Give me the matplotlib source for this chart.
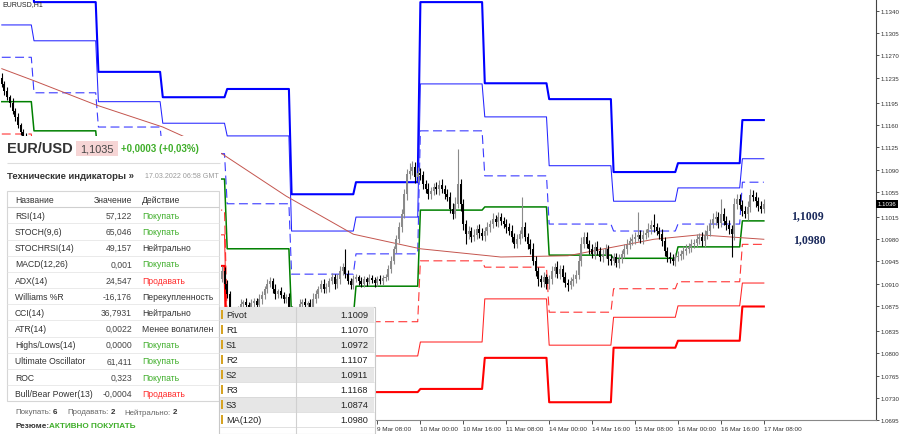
import numpy as np
import matplotlib
matplotlib.use("Agg")
import matplotlib.pyplot as plt
import matplotlib.transforms as mtransforms
from matplotlib.patches import Rectangle

plt.rcParams["font.family"] = ["Liberation Sans", "DejaVu Sans"]

# ---------------- data ----------------
# hourly bars, one block per trading day (1 Mar 12:00 .. 17 Mar 08:00)
DAY_NAMES = ["1 Mar", "2 Mar", "3 Mar", "4 Mar", "7 Mar", "8 Mar", "9 Mar",
             "10 Mar", "11 Mar", "14 Mar", "15 Mar", "16 Mar", "17 Mar"]
DAY_BARS = [12, 24, 24, 24, 24, 24, 24, 24, 24, 24, 24, 24, 9]

# daily pivot levels
R3 = [1.1420, 1.1354, 1.1244, 1.1204, 1.1217, 1.1051, 1.1070, 1.1354, 1.1226, 1.1201, 1.1086, 1.1100, 1.1168]
R2 = [1.1318, 1.1293, 1.1197, 1.1163, 1.1143, 1.0993, 1.1015, 1.1225, 1.1173, 1.1096, 1.1040, 1.1061, 1.1107]
R1 = [1.1267, 1.1211, 1.1157, 1.1115, 1.1036, 1.0925, 1.0957, 1.1151, 1.1080, 1.1004, 1.0993, 1.1004, 1.1070]
PIVOT = [1.1197, 1.1151, 1.1107, 1.1075, 1.0965, 1.0857, 1.0906, 1.1026, 1.1031, 1.0955, 1.0950, 1.0968, 1.1009]
S1 = [1.1146, 1.1099, 1.1059, 1.1026, 1.0854, 1.0815, 1.0850, 1.0946, 1.0936, 1.0865, 1.0902, 1.0913, 1.0972]
S2 = [1.1107, 1.1059, 1.1020, 1.0987, 1.0807, 1.0775, 1.0796, 1.0818, 1.0886, 1.0813, 1.0857, 1.0875, 1.0911]
S3 = [1.1067, 1.1020, 1.0980, 1.0938, 1.0744, 1.0728, 1.0739, 1.0744, 1.0793, 1.0723, 1.0809, 1.0820, 1.0874]

# MA(120) read at a few bars
MA_BARS = [0, 12, 35, 60, 82, 106, 131, 156, 186, 211, 243, 260, 284]
MA_VALUES = [1.1249, 1.1230, 1.1192, 1.1157, 1.1115, 1.1048, 1.0988, 1.0965,
             1.0952, 1.0954, 1.0980, 1.0987, 1.0980]

FIRST_OPEN = 1.1235
CLOSES = [
    1.1225, 1.1214, 1.1204, 1.1195, 1.1182, 1.1173, 1.1160, 1.1149, 1.1141, 1.1135, 1.1129, 1.1122,
    1.1119, 1.1126, 1.1115, 1.1107, 1.1110, 1.1103, 1.1099, 1.1107, 1.1110, 1.1103, 1.1094, 1.1091,
    1.1097, 1.1100, 1.1107, 1.1110, 1.1103, 1.1099, 1.1091, 1.1088, 1.1094, 1.1099, 1.1091, 1.1083,
    1.1078, 1.1083, 1.1075, 1.1067, 1.1072, 1.1078, 1.1081, 1.1072, 1.1062, 1.1056, 1.1051, 1.1059,
    1.1066, 1.1059, 1.1050, 1.1044, 1.1036, 1.1028, 1.1031, 1.1025, 1.1020, 1.1015, 1.1012, 1.1009,
    1.1004, 1.0999, 1.0993, 1.0988, 1.0984, 1.0977, 1.0973, 1.0965, 1.0957, 1.0952, 1.0946, 1.0941,
    1.0936, 1.0930, 1.0925, 1.0920, 1.0914, 1.0909, 1.0905, 1.0908, 1.0909, 1.0917, 1.0930, 1.0909,
    1.0894, 1.0867, 1.0857, 1.0862, 1.0870, 1.0878, 1.0881, 1.0876, 1.0873, 1.0879, 1.0883, 1.0876,
    1.0886, 1.0892, 1.0902, 1.0909, 1.0914, 1.0902, 1.0894, 1.0898, 1.0892, 1.0886, 1.0889, 1.0870,
    1.0862, 1.0857, 1.0867, 1.0878, 1.0881, 1.0876, 1.0879, 1.0873, 1.0886, 1.0894, 1.0902, 1.0909,
    1.0902, 1.0905, 1.0914, 1.0920, 1.0909, 1.0917, 1.0930, 1.0936, 1.0925, 1.0914, 1.0908, 1.0917,
    1.0920, 1.0914, 1.0909, 1.0917, 1.0913, 1.0919, 1.0916, 1.0911, 1.0917, 1.0914, 1.0919, 1.0920,
    1.0933, 1.0946, 1.0965, 1.0980, 1.0999, 1.1020, 1.1051, 1.1083, 1.1088, 1.1094, 1.1078, 1.1085,
    1.1081, 1.1067, 1.1059, 1.1051, 1.1056, 1.1062, 1.1059, 1.1066, 1.1059, 1.1051, 1.1047, 1.1028,
    1.1020, 1.1036, 1.1067, 1.1036, 1.1004, 1.0988, 1.0993, 1.0984, 1.0987, 1.0996, 1.0990, 1.0985,
    1.0993, 1.0999, 1.1004, 1.1012, 1.1007, 1.1015, 1.1009, 1.1004, 1.0999, 1.0993, 1.0984, 1.0973,
    1.0980, 1.0988, 1.0999, 1.0984, 1.0973, 1.0965, 1.0946, 1.0930, 1.0917, 1.0913, 1.0920, 1.0909,
    1.0917, 1.0930, 1.0936, 1.0925, 1.0933, 1.0920, 1.0911, 1.0908, 1.0914, 1.0917, 1.0924, 1.0946,
    1.0973, 1.0984, 1.0973, 1.0965, 1.0957, 1.0968, 1.0962, 1.0952, 1.0957, 1.0965, 1.0949, 1.0946,
    1.0952, 1.0943, 1.0949, 1.0957, 1.0965, 1.0971, 1.0977, 1.0980, 1.0984, 1.0987, 1.0980, 1.0987,
    1.0990, 1.0996, 1.1003, 1.0999, 1.0993, 1.0988, 1.0977, 1.0962, 1.0952, 1.0949, 1.0946, 1.0952,
    1.0954, 1.0957, 1.0962, 1.0965, 1.0968, 1.0973, 1.0974, 1.0980, 1.0984, 1.0977, 1.0987, 1.0993,
    1.1004, 1.1012, 1.1015, 1.1006, 1.1020, 1.1009, 1.1003, 1.0996, 1.0988, 1.1036, 1.1044, 1.1034,
    1.1025, 1.1020, 1.1031, 1.1050, 1.1047, 1.1040, 1.1032, 1.1028, 1.1036,
]
# candle wicks in pips above max(open, close) and below min(open, close)
WICK_UP = [
    7, 5, 6, 4, 8, 5, 6, 4, 5, 7, 4, 6,
    5, 4, 6, 3, 4, 5, 3, 6, 4, 5, 3, 4, 6, 5, 3, 4, 5, 3, 6, 4, 5, 3, 4, 5,
    4, 6, 3, 5, 4, 6, 5, 3, 4, 6, 5, 4, 3, 5, 6, 4, 5, 3, 4, 6, 5, 3, 4, 5,
    5, 3, 6, 4, 5, 3, 4, 6, 5, 4, 3, 5, 6, 4, 3, 5, 4, 6, 5, 3, 4, 5, 8, 6,
    7, 5, 4, 6, 5, 8, 4, 6, 5, 7, 4, 5, 8, 6, 5, 9, 6, 5, 7, 4, 6, 5, 4, 6,
    5, 4, 6, 8, 5, 6, 4, 7, 9, 6, 5, 7, 8, 6, 5, 7, 6, 9, 8, 6, 29, 7, 5, 6,
    5, 4, 6, 5, 4, 6, 5, 4, 5, 6, 4, 5, 6, 7, 5, 6, 8, 7, 9, 8, 12, 10, 8, 9,
    8, 7, 6, 9, 7, 6, 8, 7, 9, 6, 8, 7, 9, 10, 55, 8, 7, 6, 8, 7, 9, 6, 8, 7,
    6, 8, 7, 9, 6, 8, 7, 6, 8, 7, 9, 6, 8, 7, 48, 8, 6, 7, 9, 8, 6, 7, 8, 6,
    7, 8, 6, 9, 7, 6, 8, 7, 6, 8, 7, 9, 10, 8, 7, 6, 8, 7, 9, 6, 8, 7, 6, 8,
    6, 7, 8, 6, 7, 9, 6, 8, 7, 36, 8, 7, 6, 9, 8, 17, 7, 6, 8, 7, 6, 8, 7, 6,
    7, 6, 8, 7, 6, 8, 7, 9, 6, 8, 7, 9, 8, 10, 9, 8, 24, 9, 8, 7, 6, 9, 8, 7,
    8, 7, 9, 10, 8, 7, 6, 8, 7,
]
WICK_DN = [
    5, 6, 4, 7, 5, 6, 4, 5, 6, 4, 5, 6,
    4, 5, 3, 6, 4, 5, 6, 3, 5, 4, 6, 5, 3, 4, 6, 5, 4, 3, 5, 6, 4, 5, 3, 4,
    5, 4, 6, 3, 5, 4, 3, 6, 5, 4, 6, 3, 5, 4, 6, 5, 3, 4, 6, 5, 4, 3, 5, 6,
    4, 6, 5, 3, 4, 6, 5, 4, 3, 6, 5, 4, 6, 3, 5, 4, 6, 5, 4, 3, 6, 5, 4, 7,
    6, 8, 7, 5, 6, 7, 5, 8, 6, 5, 7, 6, 5, 8, 6, 7, 5, 6, 8, 7, 5, 6, 7, 8,
    7, 6, 5, 8, 6, 7, 5, 6, 8, 7, 6, 5, 7, 6, 8, 5, 7, 6, 8, 7, 6, 5, 7, 6,
    5, 6, 4, 5, 6, 4, 5, 6, 5, 4, 6, 5, 4, 6, 5, 7, 6, 8, 7, 9, 8, 7, 9, 8,
    7, 8, 6, 7, 8, 6, 7, 9, 6, 8, 7, 6, 8, 7, 6, 12, 9, 15, 7, 8, 6, 7, 8, 6,
    7, 6, 8, 7, 6, 8, 7, 6, 9, 7, 8, 6, 7, 8, 6, 7, 8, 9, 7, 8, 10, 9, 8, 7,
    8, 7, 9, 6, 8, 7, 6, 9, 7, 8, 6, 7, 8, 6, 7, 9, 6, 8, 7, 6, 8, 7, 9, 6,
    7, 6, 8, 7, 6, 8, 7, 6, 8, 7, 6, 8, 7, 6, 8, 7, 6, 8, 7, 9, 8, 7, 6, 8,
    7, 6, 8, 7, 6, 8, 7, 6, 8, 7, 9, 6, 8, 7, 9, 8, 7, 6, 8, 7, 36, 9, 8, 7,
    8, 7, 9, 8, 7, 9, 8, 7, 6,
]

TIME_TICKS = [140, 156, 172, 188, 204, 220, 236, 252, 268, 284]
TIME_LABELS = ["9 Mar 08:00", "10 Mar 00:00", "10 Mar 16:00", "11 Mar 08:00",
               "14 Mar 00:00", "14 Mar 16:00", "15 Mar 08:00", "16 Mar 00:00",
               "16 Mar 16:00", "17 Mar 08:00"]
PRICE_TICKS = [1.1340, 1.1305, 1.1270, 1.1235, 1.1195, 1.1160, 1.1125, 1.1090,
               1.1055, 1.1015, 1.0980, 1.0945, 1.0910, 1.0875, 1.0835, 1.0800,
               1.0765, 1.0730, 1.0695]
LAST_PRICE = 1.1036

QUOTE, CHANGE, CHANGE_PCT = 1.1035, 0.0003, 0.03
IND_NAMES = ["RSI(14)", "STOCH(9,6)", "STOCHRSI(14)", "MACD(12,26)", "ADX(14)",
             "Williams %R", "CCI(14)", "ATR(14)", "Highs/Lows(14)",
             "Ultimate Oscillator", "ROC", "Bull/Bear Power(13)"]
IND_VALUES = ["57,122", "65,046", "49,157", "0,001", "24,547", "-16,176",
              "36,7931", "0,0022", "0,0000", "61,411", "0,323", "-0,0004"]
IND_ACTIONS = ["Покупать", "Покупать", "Нейтрально", "Покупать", "Продавать",
               "Перекупленность", "Нейтрально", "Менее волатилен", "Покупать",
               "Покупать", "Покупать", "Продавать"]
BUY_N, SELL_N, NEUTRAL_N = 6, 2, 2

# ---------------- build series ----------------
n_bars = sum(DAY_BARS)
bars = np.arange(n_bars)
closes = np.array(CLOSES)
opens = np.concatenate([[FIRST_OPEN], closes[:-1]])
highs = np.maximum(opens, closes) + np.array(WICK_UP) * 1e-4
lows = np.minimum(opens, closes) - np.array(WICK_DN) * 1e-4

fig = plt.figure(figsize=(9, 4.35), dpi=100)
ax = fig.add_axes([0, 14 / 435, 876 / 900, 421 / 435])
ax.set_xlim(-0.67, 325.8)
ax.set_ylim(1.0695, 1.13589)

levels = [
    (R3, "#0000ff", 1.5, "-"),
    (R2, "#2424ff", 0.75, "-"),
    (R1, "#3a3aff", 0.8, (0, (8, 4))),
    (PIVOT, "#008000", 1.1, "-"),
    (S1, "#ff3535", 0.8, (0, (8, 4))),
    (S2, "#ff2525", 0.75, "-"),
    (S3, "#ff0000", 1.5, "-"),
]
for values, color, lw, ls in levels:
    ax.plot(bars, np.repeat(values, DAY_BARS), color=color, lw=lw, ls=ls, zorder=2)

ax.plot(MA_BARS, MA_VALUES, color="#c4554e", lw=0.7, zorder=2)

# candles
up = closes >= opens
cols = np.where(up, "#8a8a8a", "#000000")
ax.vlines(bars, lows, highs, colors=cols, lw=0.8, zorder=3)
ax.bar(bars, np.maximum(np.abs(closes - opens), 0.00004),
       bottom=np.minimum(opens, closes), width=0.75, color=cols, lw=0, zorder=3)

# axes styling
for side in ("left", "top"):
    ax.spines[side].set_visible(False)
ax.spines["right"].set_color("#444444")
ax.spines["right"].set_linewidth(0.8)
ax.spines["bottom"].set_color("#888888")
ax.spines["bottom"].set_linewidth(0.8)
ax.yaxis.tick_right()
ax.set_yticks(PRICE_TICKS)
ax.set_yticklabels([f"{v:.4f}" for v in PRICE_TICKS])
ax.tick_params(axis="y", length=2.5, width=0.6, pad=1.0, labelsize=4.4,
               colors="#333333")
ax.set_xticks(TIME_TICKS)
ax.set_xticklabels(TIME_LABELS)
ax.tick_params(axis="x", length=3, width=0.6, pad=1.5, labelsize=4.6,
               colors="#333333")
for lbl in ax.get_xticklabels():
    lbl.set_ha("left")

blend = mtransforms.blended_transform_factory(ax.transAxes, ax.transData)
ax.text(1.002, LAST_PRICE, f"{LAST_PRICE:.4f}", transform=blend, fontsize=4.4,
        color="white", ha="left", va="center",
        bbox=dict(facecolor="black", edgecolor="none", pad=1.2), zorder=6,
        clip_on=False)
ax.text(0.903, PIVOT[-1], f"{PIVOT[-1]:.4f}".replace(".", ","), transform=blend,
        family="Liberation Serif", fontweight="bold", fontsize=8.5,
        color="#1b2a5c", ha="left", va="bottom")
ax.text(0.905, MA_VALUES[-1], f"{MA_VALUES[-1]:.4f}".replace(".", ","),
        transform=blend, family="Liberation Serif", fontweight="bold",
        fontsize=8.5, color="#1b2a5c", ha="left", va="center")
ax.text(0.003, 0.997, "EURUSD,H1", transform=ax.transAxes, fontsize=5,
        va="top", ha="left", color="#222222")

# ---------------- overlay panels (pixel coordinates) ----------------
ov = fig.add_axes([0, 0, 1, 1], zorder=5)
ov.set_xlim(0, 900)
ov.set_ylim(435, 0)
ov.axis("off")

GREEN, RED, DARK = "#3fae2a", "#ff2d2d", "#333333"


def text_chain(x, y, parts, size):
    """Write (text, color, bold, gap_pt) pieces one after another on a line."""
    prev = None
    for txt, color, bold, gap in parts:
        weight = "bold" if bold else "normal"
        if prev is None:
            prev = ov.text(x, y, txt, fontsize=size, color=color,
                           fontweight=weight, va="center", ha="left")
        else:
            prev = ov.annotate(txt, xy=(1, 0.5), xycoords=prev,
                               xytext=(gap, 0), textcoords="offset points",
                               fontsize=size, color=color, fontweight=weight,
                               va="center", ha="left")


ov.add_patch(Rectangle((0, 137), 221, 298, facecolor="white", edgecolor="none"))
ov.text(7, 149.5, "EUR/USD", fontsize=10.5, fontweight="bold", color=DARK,
        va="center", ha="left")
ov.add_patch(Rectangle((76, 141.5), 42, 15, facecolor="#f6d5d5", edgecolor="none"))
ov.text(97, 149.5, f"{QUOTE:.4f}".replace(".", ","), fontsize=7.8, color="#444444",
        ha="center", va="center")
ov.text(121, 149.5, f"+{CHANGE:.4f} (+{CHANGE_PCT:.2f}%)".replace(".", ","),
        fontsize=7, fontweight="bold", color=GREEN, ha="left", va="center")
ov.hlines(164, 7, 220, color="#dddddd", lw=0.8)
ov.text(7, 177, "Технические индикаторы »", fontsize=6.8, fontweight="bold",
        color=DARK, ha="left", va="center")
ov.text(219, 177, "17.03.2022 06:58 GMT", fontsize=5.1, color="#9a9a9a",
        ha="right", va="center")

top, head_h, row_h = 192, 16.3, 16.17
ov.add_patch(Rectangle((7, top), 212, head_h + row_h * len(IND_NAMES),
                       facecolor="none", edgecolor="#d6d6d6", lw=0.8))
ov.text(15, top + head_h / 2, "Название", fontsize=6.2, color=DARK, va="center")
ov.text(132, top + head_h / 2, "Значение", fontsize=6.2, color=DARK, va="center",
        ha="right")
ov.text(142, top + head_h / 2, "Действие", fontsize=6.2, color=DARK, va="center")
ov.hlines(top + head_h, 7, 219, color="#cfcfcf", lw=0.8)
for i, (name, val, act) in enumerate(zip(IND_NAMES, IND_VALUES, IND_ACTIONS)):
    yc = top + head_h + row_h * (i + 0.5)
    if i:
        ov.hlines(top + head_h + row_h * i, 7, 219, color="#e6e6e6", lw=0.6)
    color = GREEN if act == "Покупать" else RED if act == "Продавать" else DARK
    ov.text(15, yc, name, fontsize=6.2, color=DARK, va="center")
    ov.text(132, yc, val, fontsize=6.2, color="#444444", va="center", ha="right")
    ov.text(142, yc, act, fontsize=6.2, color=color, va="center")

text_chain(15, 413, [("Покупать:", "#666666", False, 0),
                     (str(BUY_N), DARK, True, 1.5),
                     ("Продавать:", "#666666", False, 7),
                     (str(SELL_N), DARK, True, 1.5),
                     ("Нейтрально:", "#666666", False, 7),
                     (str(NEUTRAL_N), DARK, True, 1.5)], 5.7)
text_chain(15, 427, [("Резюме:", DARK, True, 0),
                     ("АКТИВНО ПОКУПАТЬ", GREEN, True, 0)], 5.9)

# pivot table
piv_labels = ["Pivot", "R1", "S1", "R2", "S2", "R3", "S3", "MA(120)"]
piv_values = [PIVOT[-1], R1[-1], S1[-1], R2[-1], S2[-1], R3[-1], S3[-1], MA_VALUES[-1]]
ptop, prow = 307.5, 15.1
ov.add_patch(Rectangle((219, ptop), 156, 435 - ptop, facecolor="white",
                       edgecolor="#c8c8c8", lw=0.8))
for i, (lab, val) in enumerate(zip(piv_labels, piv_values)):
    y0 = ptop + prow * i
    if i % 2 == 0:
        ov.add_patch(Rectangle((220, y0), 154, prow, facecolor="#e6e6e6",
                               edgecolor="none"))
    ov.hlines(y0 + prow, 220, 374, color="#d4d4d4", lw=0.5)
    ov.add_patch(Rectangle((221, y0 + 3), 1.6, prow - 6, facecolor="#d6a323",
                           edgecolor="none"))
    ov.text(226, y0 + prow / 2, lab, fontsize=6.6, color="#222222", va="center")
    ov.text(368, y0 + prow / 2, f"{val:.4f}", fontsize=6.6, color="#222222",
            va="center", ha="right")
ov.vlines(296, ptop, 435, color="#d0d0d0", lw=0.8)

fig.savefig("out.png", dpi=100)
